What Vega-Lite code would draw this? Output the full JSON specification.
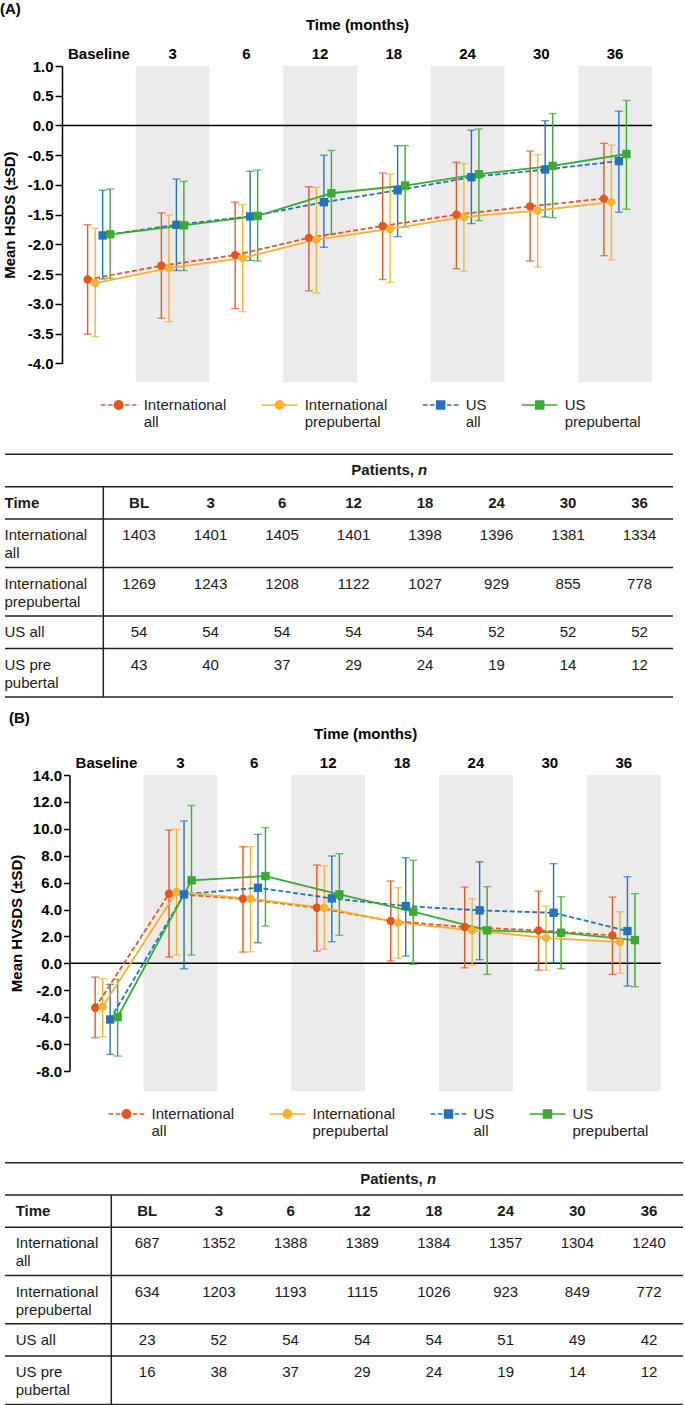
{
"$schema":"https://vega.github.io/schema/vega-lite/v6.json",
"padding":{"left":0,"top":2,"right":0,"bottom":0},
"bounds":"flush",
"spacing":0,
"resolve":{"scale":{"color":"independent"},"legend":{"color":"independent"}},
"config":{
 "view":{"stroke":null},
 "font":"Liberation Sans",
 "axis":{"labelFont":"Liberation Sans","titleFont":"Liberation Sans","labelColor":"#000","titleColor":"#000","grid":false},
 "legend":{"labelFont":"Liberation Sans","titleFont":"Liberation Sans"},
 "title":{"font":"Liberation Sans","color":"#000"},
 "text":{"font":"Liberation Sans","fontSize":15,"color":"#1a1a1a"}
},
"datasets":{
 "hsdsA":[
  {"Time":"Baseline","month":0,"Group":"International all","mean":-2.59,"lo":-3.51,"hi":-1.67},
  {"Time":"Baseline","month":0,"Group":"International prepubertal","mean":-2.65,"lo":-3.55,"hi":-1.73},
  {"Time":"Baseline","month":0,"Group":"US all","mean":-1.85,"lo":-2.58,"hi":-1.09},
  {"Time":"Baseline","month":0,"Group":"US prepubertal","mean":-1.83,"lo":-2.57,"hi":-1.07},
  {"Time":"3","month":3,"Group":"International all","mean":-2.36,"lo":-3.24,"hi":-1.47},
  {"Time":"3","month":3,"Group":"International prepubertal","mean":-2.40,"lo":-3.30,"hi":-1.51},
  {"Time":"3","month":3,"Group":"US all","mean":-1.67,"lo":-2.44,"hi":-0.90},
  {"Time":"3","month":3,"Group":"US prepubertal","mean":-1.68,"lo":-2.44,"hi":-0.94},
  {"Time":"6","month":6,"Group":"International all","mean":-2.18,"lo":-3.08,"hi":-1.29},
  {"Time":"6","month":6,"Group":"International prepubertal","mean":-2.23,"lo":-3.13,"hi":-1.33},
  {"Time":"6","month":6,"Group":"US all","mean":-1.53,"lo":-2.27,"hi":-0.77},
  {"Time":"6","month":6,"Group":"US prepubertal","mean":-1.52,"lo":-2.28,"hi":-0.75},
  {"Time":"12","month":12,"Group":"International all","mean":-1.89,"lo":-2.78,"hi":-1.03},
  {"Time":"12","month":12,"Group":"International prepubertal","mean":-1.92,"lo":-2.82,"hi":-1.04},
  {"Time":"12","month":12,"Group":"US all","mean":-1.29,"lo":-2.05,"hi":-0.50},
  {"Time":"12","month":12,"Group":"US prepubertal","mean":-1.14,"lo":-1.83,"hi":-0.42},
  {"Time":"18","month":18,"Group":"International all","mean":-1.69,"lo":-2.59,"hi":-0.80},
  {"Time":"18","month":18,"Group":"International prepubertal","mean":-1.74,"lo":-2.64,"hi":-0.82},
  {"Time":"18","month":18,"Group":"US all","mean":-1.09,"lo":-1.87,"hi":-0.34},
  {"Time":"18","month":18,"Group":"US prepubertal","mean":-1.01,"lo":-1.71,"hi":-0.34},
  {"Time":"24","month":24,"Group":"International all","mean":-1.50,"lo":-2.41,"hi":-0.62},
  {"Time":"24","month":24,"Group":"International prepubertal","mean":-1.54,"lo":-2.45,"hi":-0.64},
  {"Time":"24","month":24,"Group":"US all","mean":-0.87,"lo":-1.65,"hi":-0.08},
  {"Time":"24","month":24,"Group":"US prepubertal","mean":-0.82,"lo":-1.60,"hi":-0.06},
  {"Time":"30","month":30,"Group":"International all","mean":-1.36,"lo":-2.28,"hi":-0.43},
  {"Time":"30","month":30,"Group":"International prepubertal","mean":-1.43,"lo":-2.38,"hi":-0.49},
  {"Time":"30","month":30,"Group":"US all","mean":-0.74,"lo":-1.54,"hi":0.08},
  {"Time":"30","month":30,"Group":"US prepubertal","mean":-0.68,"lo":-1.55,"hi":0.20},
  {"Time":"36","month":36,"Group":"International all","mean":-1.23,"lo":-2.19,"hi":-0.30},
  {"Time":"36","month":36,"Group":"International prepubertal","mean":-1.29,"lo":-2.26,"hi":-0.33},
  {"Time":"36","month":36,"Group":"US all","mean":-0.60,"lo":-1.46,"hi":0.24},
  {"Time":"36","month":36,"Group":"US prepubertal","mean":-0.48,"lo":-1.41,"hi":0.42}
 ],
 "hsdsB":[
  {"Time":"Baseline","month":0,"Group":"International all","mean":-3.30,"lo":-5.53,"hi":-1.02},
  {"Time":"Baseline","month":0,"Group":"International prepubertal","mean":-3.22,"lo":-5.45,"hi":-1.14},
  {"Time":"Baseline","month":0,"Group":"US all","mean":-4.17,"lo":-6.77,"hi":-1.56},
  {"Time":"Baseline","month":0,"Group":"US prepubertal","mean":-3.99,"lo":-6.89,"hi":-1.19},
  {"Time":"3","month":3,"Group":"International all","mean":5.18,"lo":0.47,"hi":9.91},
  {"Time":"3","month":3,"Group":"International prepubertal","mean":5.30,"lo":0.62,"hi":9.96},
  {"Time":"3","month":3,"Group":"US all","mean":5.13,"lo":-0.40,"hi":10.58},
  {"Time":"3","month":3,"Group":"US prepubertal","mean":6.17,"lo":0.62,"hi":11.74},
  {"Time":"6","month":6,"Group":"International all","mean":4.80,"lo":0.84,"hi":8.67},
  {"Time":"6","month":6,"Group":"International prepubertal","mean":4.80,"lo":0.86,"hi":8.67},
  {"Time":"6","month":6,"Group":"US all","mean":5.62,"lo":1.53,"hi":9.59},
  {"Time":"6","month":6,"Group":"US prepubertal","mean":6.49,"lo":2.77,"hi":10.08},
  {"Time":"12","month":12,"Group":"International all","mean":4.13,"lo":0.91,"hi":7.31},
  {"Time":"12","month":12,"Group":"International prepubertal","mean":4.13,"lo":1.04,"hi":7.23},
  {"Time":"12","month":12,"Group":"US all","mean":4.83,"lo":1.61,"hi":7.98},
  {"Time":"12","month":12,"Group":"US prepubertal","mean":5.13,"lo":2.08,"hi":8.15},
  {"Time":"18","month":18,"Group":"International all","mean":3.15,"lo":0.17,"hi":6.12},
  {"Time":"18","month":18,"Group":"International prepubertal","mean":3.02,"lo":0.37,"hi":5.62},
  {"Time":"18","month":18,"Group":"US all","mean":4.26,"lo":0.54,"hi":7.85},
  {"Time":"18","month":18,"Group":"US prepubertal","mean":3.84,"lo":-0.07,"hi":7.66},
  {"Time":"24","month":24,"Group":"International all","mean":2.70,"lo":-0.33,"hi":5.67},
  {"Time":"24","month":24,"Group":"International prepubertal","mean":2.45,"lo":-0.13,"hi":4.80},
  {"Time":"24","month":24,"Group":"US all","mean":3.94,"lo":0.27,"hi":7.55},
  {"Time":"24","month":24,"Group":"US prepubertal","mean":2.45,"lo":-0.82,"hi":5.70},
  {"Time":"30","month":30,"Group":"International all","mean":2.45,"lo":-0.50,"hi":5.37},
  {"Time":"30","month":30,"Group":"International prepubertal","mean":1.90,"lo":-0.50,"hi":4.26},
  {"Time":"30","month":30,"Group":"US all","mean":3.76,"lo":0.05,"hi":7.41},
  {"Time":"30","month":30,"Group":"US prepubertal","mean":2.28,"lo":-0.40,"hi":4.95},
  {"Time":"36","month":36,"Group":"International all","mean":2.08,"lo":-0.82,"hi":4.93},
  {"Time":"36","month":36,"Group":"International prepubertal","mean":1.58,"lo":-0.74,"hi":3.84},
  {"Time":"36","month":36,"Group":"US all","mean":2.40,"lo":-1.69,"hi":6.44},
  {"Time":"36","month":36,"Group":"US prepubertal","mean":1.73,"lo":-1.74,"hi":5.18}
 ],
 "tableA":[
  {"row":"International all","col":"BL","n":1403},{"row":"International all","col":"3","n":1401},{"row":"International all","col":"6","n":1405},{"row":"International all","col":"12","n":1401},{"row":"International all","col":"18","n":1398},{"row":"International all","col":"24","n":1396},{"row":"International all","col":"30","n":1381},{"row":"International all","col":"36","n":1334},
  {"row":"International prepubertal","col":"BL","n":1269},{"row":"International prepubertal","col":"3","n":1243},{"row":"International prepubertal","col":"6","n":1208},{"row":"International prepubertal","col":"12","n":1122},{"row":"International prepubertal","col":"18","n":1027},{"row":"International prepubertal","col":"24","n":929},{"row":"International prepubertal","col":"30","n":855},{"row":"International prepubertal","col":"36","n":778},
  {"row":"US all","col":"BL","n":54},{"row":"US all","col":"3","n":54},{"row":"US all","col":"6","n":54},{"row":"US all","col":"12","n":54},{"row":"US all","col":"18","n":54},{"row":"US all","col":"24","n":52},{"row":"US all","col":"30","n":52},{"row":"US all","col":"36","n":52},
  {"row":"US pre pubertal","col":"BL","n":43},{"row":"US pre pubertal","col":"3","n":40},{"row":"US pre pubertal","col":"6","n":37},{"row":"US pre pubertal","col":"12","n":29},{"row":"US pre pubertal","col":"18","n":24},{"row":"US pre pubertal","col":"24","n":19},{"row":"US pre pubertal","col":"30","n":14},{"row":"US pre pubertal","col":"36","n":12}
 ],
 "tableB":[
  {"row":"International all","col":"BL","n":687},{"row":"International all","col":"3","n":1352},{"row":"International all","col":"6","n":1388},{"row":"International all","col":"12","n":1389},{"row":"International all","col":"18","n":1384},{"row":"International all","col":"24","n":1357},{"row":"International all","col":"30","n":1304},{"row":"International all","col":"36","n":1240},
  {"row":"International prepubertal","col":"BL","n":634},{"row":"International prepubertal","col":"3","n":1203},{"row":"International prepubertal","col":"6","n":1193},{"row":"International prepubertal","col":"12","n":1115},{"row":"International prepubertal","col":"18","n":1026},{"row":"International prepubertal","col":"24","n":923},{"row":"International prepubertal","col":"30","n":849},{"row":"International prepubertal","col":"36","n":772},
  {"row":"US all","col":"BL","n":23},{"row":"US all","col":"3","n":52},{"row":"US all","col":"6","n":54},{"row":"US all","col":"12","n":54},{"row":"US all","col":"18","n":54},{"row":"US all","col":"24","n":51},{"row":"US all","col":"30","n":49},{"row":"US all","col":"36","n":42},
  {"row":"US pre pubertal","col":"BL","n":16},{"row":"US pre pubertal","col":"3","n":38},{"row":"US pre pubertal","col":"6","n":37},{"row":"US pre pubertal","col":"12","n":29},{"row":"US pre pubertal","col":"18","n":24},{"row":"US pre pubertal","col":"24","n":19},{"row":"US pre pubertal","col":"30","n":14},{"row":"US pre pubertal","col":"36","n":12}
 ],
 "cols":[{"col":"BL"},{"col":"3"},{"col":"6"},{"col":"12"},{"col":"18"},{"col":"24"},{"col":"30"},{"col":"36"}],
 "rules":[{"slot":"s0"},{"slot":"s1"},{"slot":"s2"},{"slot":"s4"},{"slot":"s6"},{"slot":"s7"},{"slot":"end"}],
 "bands":[{"Time":"3"},{"Time":"12"},{"Time":"24"},{"Time":"36"}],
 "one":[{}]
},
"vconcat":[
 {
  "width":668,"height":297.3,
  "title":{"text":"(A)","anchor":"start","frame":"group","fontSize":15,"fontWeight":"bold","offset":0,"dx":-5},
  "layer":[
   {"data":{"name":"bands"},"mark":{"type":"rect","color":"#EBEBEB"},
    "encoding":{
     "x":{"field":"Time","type":"nominal","scale":{"domain":["Baseline","3","6","12","18","24","30","36"],"range":[57,647],"paddingInner":0,"paddingOuter":0},
          "axis":{"orient":"top","domain":false,"ticks":false,"labelAngle":0,"labelFontSize":15,"labelFontWeight":"bold","labelPadding":5,"title":"Time (months)","titleFontSize":15,"titleFontWeight":"bold","titlePadding":14}},
     "y":{"datum":1,"type":"quantitative","scale":{"domain":[-4,1],"nice":false,"zero":false},
          "axis":{"values":[1,0.5,0,-0.5,-1,-1.5,-2,-2.5,-3,-3.5,-4],"labelExpr":"replace(format(datum.value,'.1f'),'\u2212','-')","offset":-57,"labelFontSize":15,"labelFontWeight":"bold","labelPadding":2,"labelOverlap":false,"labelBound":false,"tickSize":7,"tickWidth":1.5,"tickColor":"#000","domainColor":"#000","domainWidth":1.5,"title":"Mean HSDS (±SD)","titleFontSize":15,"titleFontWeight":"bold","titlePadding":10}},
     "y2":{"datum":-4.32}
    }},
   {"data":{"name":"one"},"mark":{"type":"rule","color":"#000","strokeWidth":1.5},
    "encoding":{
     "x":{"datum":"Baseline","type":"nominal","bandPosition":0,"scale":{"domain":["Baseline","3","6","12","18","24","30","36"],"range":[57,647],"paddingInner":0,"paddingOuter":0}},
     "x2":{"datum":"36","bandPosition":1},
     "y":{"datum":0,"type":"quantitative","scale":{"domain":[-4,1],"nice":false,"zero":false},
          "axis":{"values":[1,0.5,0,-0.5,-1,-1.5,-2,-2.5,-3,-3.5,-4],"labelExpr":"replace(format(datum.value,'.1f'),'\u2212','-')","offset":-57,"labelFontSize":15,"labelFontWeight":"bold","labelPadding":2,"labelOverlap":false,"labelBound":false,"tickSize":7,"tickWidth":1.5,"tickColor":"#000","domainColor":"#000","domainWidth":1.5,"title":"Mean HSDS (±SD)","titleFontSize":15,"titleFontWeight":"bold","titlePadding":10}}
    }},
   {"data":{"name":"hsdsA"},"mark":{"type":"rule","strokeWidth":1.4},
    "encoding":{
     "x":{"field":"Time","type":"nominal","scale":{"domain":["Baseline","3","6","12","18","24","30","36"],"range":[57,647],"paddingInner":0,"paddingOuter":0}},
     "xOffset":{"field":"Group","type":"nominal","scale":{"domain":["International all","International prepubertal","US all","US prepubertal"],"range":[21.9,51.9],"paddingInner":0,"paddingOuter":0}},
     "y":{"field":"lo","type":"quantitative","scale":{"domain":[-4,1],"nice":false,"zero":false},
          "axis":{"values":[1,0.5,0,-0.5,-1,-1.5,-2,-2.5,-3,-3.5,-4],"labelExpr":"replace(format(datum.value,'.1f'),'\u2212','-')","offset":-57,"labelFontSize":15,"labelFontWeight":"bold","labelPadding":2,"labelOverlap":false,"labelBound":false,"tickSize":7,"tickWidth":1.5,"tickColor":"#000","domainColor":"#000","domainWidth":1.5,"title":"Mean HSDS (±SD)","titleFontSize":15,"titleFontWeight":"bold","titlePadding":10}},
     "y2":{"field":"hi"},
     "color":{"field":"Group","type":"nominal","scale":{"domain":["International all","International prepubertal","US all","US prepubertal"],"range":["#E8541E","#F8B133","#2472B9","#3AA935"]}}
    }},
   {"data":{"name":"hsdsA"},"mark":{"type":"tick","thickness":1.4,"size":8,"orient":"horizontal"},
    "encoding":{
     "x":{"field":"Time","type":"nominal","scale":{"domain":["Baseline","3","6","12","18","24","30","36"],"range":[57,647],"paddingInner":0,"paddingOuter":0}},
     "xOffset":{"field":"Group","type":"nominal","scale":{"domain":["International all","International prepubertal","US all","US prepubertal"],"range":[21.9,51.9],"paddingInner":0,"paddingOuter":0}},
     "y":{"field":"lo","type":"quantitative","scale":{"domain":[-4,1],"nice":false,"zero":false},
          "axis":{"values":[1,0.5,0,-0.5,-1,-1.5,-2,-2.5,-3,-3.5,-4],"labelExpr":"replace(format(datum.value,'.1f'),'\u2212','-')","offset":-57,"labelFontSize":15,"labelFontWeight":"bold","labelPadding":2,"labelOverlap":false,"labelBound":false,"tickSize":7,"tickWidth":1.5,"tickColor":"#000","domainColor":"#000","domainWidth":1.5,"title":"Mean HSDS (±SD)","titleFontSize":15,"titleFontWeight":"bold","titlePadding":10}},
     "color":{"field":"Group","type":"nominal","scale":{"domain":["International all","International prepubertal","US all","US prepubertal"],"range":["#E8541E","#F8B133","#2472B9","#3AA935"]}}
    }},
   {"data":{"name":"hsdsA"},"mark":{"type":"tick","thickness":1.4,"size":8,"orient":"horizontal"},
    "encoding":{
     "x":{"field":"Time","type":"nominal","scale":{"domain":["Baseline","3","6","12","18","24","30","36"],"range":[57,647],"paddingInner":0,"paddingOuter":0}},
     "xOffset":{"field":"Group","type":"nominal","scale":{"domain":["International all","International prepubertal","US all","US prepubertal"],"range":[21.9,51.9],"paddingInner":0,"paddingOuter":0}},
     "y":{"field":"hi","type":"quantitative","scale":{"domain":[-4,1],"nice":false,"zero":false},
          "axis":{"values":[1,0.5,0,-0.5,-1,-1.5,-2,-2.5,-3,-3.5,-4],"labelExpr":"replace(format(datum.value,'.1f'),'\u2212','-')","offset":-57,"labelFontSize":15,"labelFontWeight":"bold","labelPadding":2,"labelOverlap":false,"labelBound":false,"tickSize":7,"tickWidth":1.5,"tickColor":"#000","domainColor":"#000","domainWidth":1.5,"title":"Mean HSDS (±SD)","titleFontSize":15,"titleFontWeight":"bold","titlePadding":10}},
     "color":{"field":"Group","type":"nominal","scale":{"domain":["International all","International prepubertal","US all","US prepubertal"],"range":["#E8541E","#F8B133","#2472B9","#3AA935"]}}
    }},
   {"data":{"name":"hsdsA"},"transform":[{"filter":{"field":"Group","oneOf":["International all","US all"]}}],
    "mark":{"type":"line","strokeWidth":1.8,"strokeDash":[5,2.5]},
    "encoding":{
     "x":{"field":"Time","type":"nominal","scale":{"domain":["Baseline","3","6","12","18","24","30","36"],"range":[57,647],"paddingInner":0,"paddingOuter":0}},
     "xOffset":{"field":"Group","type":"nominal","scale":{"domain":["International all","International prepubertal","US all","US prepubertal"],"range":[21.9,51.9],"paddingInner":0,"paddingOuter":0}},
     "y":{"field":"mean","type":"quantitative","scale":{"domain":[-4,1],"nice":false,"zero":false},
          "axis":{"values":[1,0.5,0,-0.5,-1,-1.5,-2,-2.5,-3,-3.5,-4],"labelExpr":"replace(format(datum.value,'.1f'),'\u2212','-')","offset":-57,"labelFontSize":15,"labelFontWeight":"bold","labelPadding":2,"labelOverlap":false,"labelBound":false,"tickSize":7,"tickWidth":1.5,"tickColor":"#000","domainColor":"#000","domainWidth":1.5,"title":"Mean HSDS (±SD)","titleFontSize":15,"titleFontWeight":"bold","titlePadding":10}},
     "order":{"field":"month","type":"quantitative"},
     "color":{"field":"Group","type":"nominal","scale":{"domain":["International all","International prepubertal","US all","US prepubertal"],"range":["#E8541E","#F8B133","#2472B9","#3AA935"]}}
    }},
   {"data":{"name":"hsdsA"},"transform":[{"filter":{"field":"Group","oneOf":["International prepubertal","US prepubertal"]}}],
    "mark":{"type":"line","strokeWidth":1.8},
    "encoding":{
     "x":{"field":"Time","type":"nominal","scale":{"domain":["Baseline","3","6","12","18","24","30","36"],"range":[57,647],"paddingInner":0,"paddingOuter":0}},
     "xOffset":{"field":"Group","type":"nominal","scale":{"domain":["International all","International prepubertal","US all","US prepubertal"],"range":[21.9,51.9],"paddingInner":0,"paddingOuter":0}},
     "y":{"field":"mean","type":"quantitative","scale":{"domain":[-4,1],"nice":false,"zero":false},
          "axis":{"values":[1,0.5,0,-0.5,-1,-1.5,-2,-2.5,-3,-3.5,-4],"labelExpr":"replace(format(datum.value,'.1f'),'\u2212','-')","offset":-57,"labelFontSize":15,"labelFontWeight":"bold","labelPadding":2,"labelOverlap":false,"labelBound":false,"tickSize":7,"tickWidth":1.5,"tickColor":"#000","domainColor":"#000","domainWidth":1.5,"title":"Mean HSDS (±SD)","titleFontSize":15,"titleFontWeight":"bold","titlePadding":10}},
     "order":{"field":"month","type":"quantitative"},
     "color":{"field":"Group","type":"nominal","scale":{"domain":["International all","International prepubertal","US all","US prepubertal"],"range":["#E8541E","#F8B133","#2472B9","#3AA935"]},
      "legend":{"orient":"none","legendX":94.7,"legendY":320,"direction":"horizontal","columns":4,"columnPadding":31,"title":null,"padding":0,"labelFontSize":15,"labelColor":"#222","labelOffset":6,"labelLimit":300,"labelExpr":"split(datum.label,' ')","symbolSize":1275,"labelBaseline":"middle",
       "encode":{"symbols":{"update":{
        "shape":{"signal":"datum.value === 'International all' ? 'M-1,0L-0.74,0M-0.6,0L-0.34,0M0.34,0L0.6,0M0.74,0L1,0M-0.24,0A0.24,0.24,0,1,1,0.24,0A0.24,0.24,0,1,1,-0.24,0Z' : datum.value === 'International prepubertal' ? 'M-1,0L1,0M-0.24,0A0.24,0.24,0,1,1,0.24,0A0.24,0.24,0,1,1,-0.24,0Z' : datum.value === 'US all' ? 'M-1,0L-0.74,0M-0.6,0L-0.34,0M0.34,0L0.6,0M0.74,0L1,0M-0.22,-0.22L0.22,-0.22L0.22,0.22L-0.22,0.22Z' : 'M-1,0L1,0M-0.22,-0.22L0.22,-0.22L0.22,0.22L-0.22,0.22Z'"},
        "fill":{"signal":"datum.value === 'International all' ? '#E8541E' : datum.value === 'International prepubertal' ? '#F8B133' : datum.value === 'US all' ? '#2472B9' : '#3AA935'"},
        "stroke":{"signal":"datum.value === 'International all' ? '#E8541E' : datum.value === 'International prepubertal' ? '#F8B133' : datum.value === 'US all' ? '#2472B9' : '#3AA935'"},
        "strokeWidth":{"value":1.6},"strokeDash":{"value":[]},"size":{"value":1275},"opacity":{"value":1},"fillOpacity":{"value":1},"strokeOpacity":{"value":1}
       }}}}
     }
    }},
   {"data":{"name":"hsdsA"},"transform":[{"filter":{"field":"Group","oneOf":["International all","International prepubertal"]}}],
    "mark":{"type":"point","shape":"circle","filled":true,"opacity":1,"size":70},
    "encoding":{
     "x":{"field":"Time","type":"nominal","scale":{"domain":["Baseline","3","6","12","18","24","30","36"],"range":[57,647],"paddingInner":0,"paddingOuter":0}},
     "xOffset":{"field":"Group","type":"nominal","scale":{"domain":["International all","International prepubertal","US all","US prepubertal"],"range":[21.9,51.9],"paddingInner":0,"paddingOuter":0}},
     "y":{"field":"mean","type":"quantitative","scale":{"domain":[-4,1],"nice":false,"zero":false},
          "axis":{"values":[1,0.5,0,-0.5,-1,-1.5,-2,-2.5,-3,-3.5,-4],"labelExpr":"replace(format(datum.value,'.1f'),'\u2212','-')","offset":-57,"labelFontSize":15,"labelFontWeight":"bold","labelPadding":2,"labelOverlap":false,"labelBound":false,"tickSize":7,"tickWidth":1.5,"tickColor":"#000","domainColor":"#000","domainWidth":1.5,"title":"Mean HSDS (±SD)","titleFontSize":15,"titleFontWeight":"bold","titlePadding":10}},
     "color":{"field":"Group","type":"nominal","scale":{"domain":["International all","International prepubertal","US all","US prepubertal"],"range":["#E8541E","#F8B133","#2472B9","#3AA935"]}}
    }},
   {"data":{"name":"hsdsA"},"transform":[{"filter":{"field":"Group","oneOf":["US all","US prepubertal"]}}],
    "mark":{"type":"point","shape":"square","filled":true,"opacity":1,"size":70},
    "encoding":{
     "x":{"field":"Time","type":"nominal","scale":{"domain":["Baseline","3","6","12","18","24","30","36"],"range":[57,647],"paddingInner":0,"paddingOuter":0}},
     "xOffset":{"field":"Group","type":"nominal","scale":{"domain":["International all","International prepubertal","US all","US prepubertal"],"range":[21.9,51.9],"paddingInner":0,"paddingOuter":0}},
     "y":{"field":"mean","type":"quantitative","scale":{"domain":[-4,1],"nice":false,"zero":false},
          "axis":{"values":[1,0.5,0,-0.5,-1,-1.5,-2,-2.5,-3,-3.5,-4],"labelExpr":"replace(format(datum.value,'.1f'),'\u2212','-')","offset":-57,"labelFontSize":15,"labelFontWeight":"bold","labelPadding":2,"labelOverlap":false,"labelBound":false,"tickSize":7,"tickWidth":1.5,"tickColor":"#000","domainColor":"#000","domainWidth":1.5,"title":"Mean HSDS (±SD)","titleFontSize":15,"titleFontWeight":"bold","titlePadding":10}},
     "color":{"field":"Group","type":"nominal","scale":{"domain":["International all","International prepubertal","US all","US prepubertal"],"range":["#E8541E","#F8B133","#2472B9","#3AA935"]}}
    }}
  ]
 },
 {
  "width":668,"height":411,
  "layer":[
   {"data":{"name":"rules"},"mark":{"type":"rule","color":"#222","strokeWidth":1.5},
    "encoding":{"y":{"field":"slot","type":"nominal","bandPosition":0,
     "scale":{"domain":["s0","Patients","s1","Time","s2","International all","s3","s4","International prepubertal","s5","s6","US all","s7","US pre pubertal","s8","end"],"range":[90.3,349.2],"paddingInner":0,"paddingOuter":0},
     "axis":{"orient":"left","values":["Time","International all","International prepubertal","US all","US pre pubertal"],"bandPosition":0,
      "labelExpr":"datum.value === 'International all' ? ['International','all'] : datum.value === 'International prepubertal' ? ['International','prepubertal'] : datum.value === 'US pre pubertal' ? ['US pre','pubertal'] : datum.value",
      "labelAlign":"left","labelBaseline":"middle","labelPadding":1,"labelOffset":-8.1,"tickSize":0,"ticks":false,"domain":false,"title":null,"labelFontSize":15,"labelLineHeight":18,"labelColor":"#1a1a1a","labelOverlap":false,"labelBound":false,"labelLimit":0,
      "labelFontWeight":{"condition":{"test":"datum.value === 'Time'","value":"bold"},"value":"normal"}}}}},
   {"data":{"name":"one"},"mark":{"type":"rule","color":"#222","strokeWidth":1.5},
    "encoding":{
     "x":{"datum":"BL","type":"nominal","bandPosition":0,"scale":{"domain":["BL","3","6","12","18","24","30","36"],"range":[98.3,670.3],"paddingInner":0,"paddingOuter":0},"axis":null},
     "y":{"datum":"s1","type":"nominal","bandPosition":0,"scale":{"domain":["s0","Patients","s1","Time","s2","International all","s3","s4","International prepubertal","s5","s6","US all","s7","US pre pubertal","s8","end"],"range":[90.3,349.2],"paddingInner":0,"paddingOuter":0}},
     "y2":{"datum":"end","bandPosition":0}}},
   {"data":{"name":"cols"},"mark":{"type":"text","fontWeight":"bold","fontSize":15,"baseline":"middle"},
    "encoding":{
     "x":{"field":"col","type":"nominal","scale":{"domain":["BL","3","6","12","18","24","30","36"],"range":[98.3,670.3],"paddingInner":0,"paddingOuter":0},"axis":null},
     "y":{"datum":"Time","type":"nominal","bandPosition":0,"scale":{"domain":["s0","Patients","s1","Time","s2","International all","s3","s4","International prepubertal","s5","s6","US all","s7","US pre pubertal","s8","end"],"range":[90.3,349.2],"paddingInner":0,"paddingOuter":0}},
     "text":{"field":"col"}}},
   {"data":{"name":"one"},"mark":{"type":"text","fontWeight":"bold","fontSize":15,"baseline":"middle","align":"right","dx":24.6},
    "encoding":{
     "x":{"datum":"18","type":"nominal","bandPosition":0,"scale":{"domain":["BL","3","6","12","18","24","30","36"],"range":[98.3,670.3],"paddingInner":0,"paddingOuter":0},"axis":null},
     "y":{"datum":"Patients","type":"nominal","bandPosition":0,"scale":{"domain":["s0","Patients","s1","Time","s2","International all","s3","s4","International prepubertal","s5","s6","US all","s7","US pre pubertal","s8","end"],"range":[90.3,349.2],"paddingInner":0,"paddingOuter":0}},
     "text":{"value":"Patients,"}}},
   {"data":{"name":"one"},"mark":{"type":"text","fontWeight":"bold","fontStyle":"italic","fontSize":15,"baseline":"middle","align":"left","dx":28.8},
    "encoding":{
     "x":{"datum":"18","type":"nominal","bandPosition":0,"scale":{"domain":["BL","3","6","12","18","24","30","36"],"range":[98.3,670.3],"paddingInner":0,"paddingOuter":0},"axis":null},
     "y":{"datum":"Patients","type":"nominal","bandPosition":0,"scale":{"domain":["s0","Patients","s1","Time","s2","International all","s3","s4","International prepubertal","s5","s6","US all","s7","US pre pubertal","s8","end"],"range":[90.3,349.2],"paddingInner":0,"paddingOuter":0}},
     "text":{"value":"n"}}},
   {"data":{"name":"tableA"},"mark":{"type":"text","fontSize":15,"baseline":"middle"},
    "encoding":{
     "x":{"field":"col","type":"nominal","scale":{"domain":["BL","3","6","12","18","24","30","36"],"range":[98.3,670.3],"paddingInner":0,"paddingOuter":0},"axis":null},
     "y":{"field":"row","type":"nominal","bandPosition":0,"scale":{"domain":["s0","Patients","s1","Time","s2","International all","s3","s4","International prepubertal","s5","s6","US all","s7","US pre pubertal","s8","end"],"range":[90.3,349.2],"paddingInner":0,"paddingOuter":0}},
     "text":{"field":"n","type":"quantitative","format":"d"}}}
  ]
 },
 {
  "width":668,"height":296,
  "title":{"text":"(B)","anchor":"start","frame":"group","fontSize":15,"fontWeight":"bold","offset":0,"dx":4},
  "layer":[
   {"data":{"name":"bands"},"mark":{"type":"rect","color":"#EBEBEB"},
    "encoding":{
     "x":{"field":"Time","type":"nominal","scale":{"domain":["Baseline","3","6","12","18","24","30","36"],"range":[64.5,655.7],"paddingInner":0,"paddingOuter":0},
          "axis":{"orient":"top","domain":false,"ticks":false,"labelAngle":0,"labelFontSize":15,"labelFontWeight":"bold","labelPadding":5,"title":"Time (months)","titleFontSize":15,"titleFontWeight":"bold","titlePadding":14}},
     "y":{"datum":14,"type":"quantitative","scale":{"domain":[-8,14],"nice":false,"zero":false},
          "axis":{"values":[14,12,10,8,6,4,2,0,-2,-4,-6,-8],"labelExpr":"replace(format(datum.value,'.1f'),'\u2212','-')","offset":-64.5,"labelFontSize":15,"labelFontWeight":"bold","labelPadding":2,"labelOverlap":false,"labelBound":false,"tickSize":6,"tickWidth":1.5,"tickColor":"#000","domainColor":"#000","domainWidth":1.5,"title":"Mean HVSDS (±SD)","titleFontSize":15,"titleFontWeight":"bold","titlePadding":8}},
     "y2":{"datum":-9.5}
    }},
   {"data":{"name":"one"},"mark":{"type":"rule","color":"#000","strokeWidth":1.5},
    "encoding":{
     "x":{"datum":"Baseline","type":"nominal","bandPosition":0,"scale":{"domain":["Baseline","3","6","12","18","24","30","36"],"range":[64.5,655.7],"paddingInner":0,"paddingOuter":0}},
     "x2":{"datum":"36","bandPosition":1},
     "y":{"datum":0,"type":"quantitative","scale":{"domain":[-8,14],"nice":false,"zero":false},
          "axis":{"values":[14,12,10,8,6,4,2,0,-2,-4,-6,-8],"labelExpr":"replace(format(datum.value,'.1f'),'\u2212','-')","offset":-64.5,"labelFontSize":15,"labelFontWeight":"bold","labelPadding":2,"labelOverlap":false,"labelBound":false,"tickSize":6,"tickWidth":1.5,"tickColor":"#000","domainColor":"#000","domainWidth":1.5,"title":"Mean HVSDS (±SD)","titleFontSize":15,"titleFontWeight":"bold","titlePadding":8}}
    }},
   {"data":{"name":"hsdsB"},"mark":{"type":"rule","strokeWidth":1.4},
    "encoding":{
     "x":{"field":"Time","type":"nominal","scale":{"domain":["Baseline","3","6","12","18","24","30","36"],"range":[64.5,655.7],"paddingInner":0,"paddingOuter":0}},
     "xOffset":{"field":"Group","type":"nominal","scale":{"domain":["International all","International prepubertal","US all","US prepubertal"],"range":[22,52],"paddingInner":0,"paddingOuter":0}},
     "y":{"field":"lo","type":"quantitative","scale":{"domain":[-8,14],"nice":false,"zero":false},
          "axis":{"values":[14,12,10,8,6,4,2,0,-2,-4,-6,-8],"labelExpr":"replace(format(datum.value,'.1f'),'\u2212','-')","offset":-64.5,"labelFontSize":15,"labelFontWeight":"bold","labelPadding":2,"labelOverlap":false,"labelBound":false,"tickSize":6,"tickWidth":1.5,"tickColor":"#000","domainColor":"#000","domainWidth":1.5,"title":"Mean HVSDS (±SD)","titleFontSize":15,"titleFontWeight":"bold","titlePadding":8}},
     "y2":{"field":"hi"},
     "color":{"field":"Group","type":"nominal","scale":{"domain":["International all","International prepubertal","US all","US prepubertal"],"range":["#E8541E","#F8B133","#2472B9","#3AA935"]}}
    }},
   {"data":{"name":"hsdsB"},"mark":{"type":"tick","thickness":1.4,"size":8,"orient":"horizontal"},
    "encoding":{
     "x":{"field":"Time","type":"nominal","scale":{"domain":["Baseline","3","6","12","18","24","30","36"],"range":[64.5,655.7],"paddingInner":0,"paddingOuter":0}},
     "xOffset":{"field":"Group","type":"nominal","scale":{"domain":["International all","International prepubertal","US all","US prepubertal"],"range":[22,52],"paddingInner":0,"paddingOuter":0}},
     "y":{"field":"lo","type":"quantitative","scale":{"domain":[-8,14],"nice":false,"zero":false},
          "axis":{"values":[14,12,10,8,6,4,2,0,-2,-4,-6,-8],"labelExpr":"replace(format(datum.value,'.1f'),'\u2212','-')","offset":-64.5,"labelFontSize":15,"labelFontWeight":"bold","labelPadding":2,"labelOverlap":false,"labelBound":false,"tickSize":6,"tickWidth":1.5,"tickColor":"#000","domainColor":"#000","domainWidth":1.5,"title":"Mean HVSDS (±SD)","titleFontSize":15,"titleFontWeight":"bold","titlePadding":8}},
     "color":{"field":"Group","type":"nominal","scale":{"domain":["International all","International prepubertal","US all","US prepubertal"],"range":["#E8541E","#F8B133","#2472B9","#3AA935"]}}
    }},
   {"data":{"name":"hsdsB"},"mark":{"type":"tick","thickness":1.4,"size":8,"orient":"horizontal"},
    "encoding":{
     "x":{"field":"Time","type":"nominal","scale":{"domain":["Baseline","3","6","12","18","24","30","36"],"range":[64.5,655.7],"paddingInner":0,"paddingOuter":0}},
     "xOffset":{"field":"Group","type":"nominal","scale":{"domain":["International all","International prepubertal","US all","US prepubertal"],"range":[22,52],"paddingInner":0,"paddingOuter":0}},
     "y":{"field":"hi","type":"quantitative","scale":{"domain":[-8,14],"nice":false,"zero":false},
          "axis":{"values":[14,12,10,8,6,4,2,0,-2,-4,-6,-8],"labelExpr":"replace(format(datum.value,'.1f'),'\u2212','-')","offset":-64.5,"labelFontSize":15,"labelFontWeight":"bold","labelPadding":2,"labelOverlap":false,"labelBound":false,"tickSize":6,"tickWidth":1.5,"tickColor":"#000","domainColor":"#000","domainWidth":1.5,"title":"Mean HVSDS (±SD)","titleFontSize":15,"titleFontWeight":"bold","titlePadding":8}},
     "color":{"field":"Group","type":"nominal","scale":{"domain":["International all","International prepubertal","US all","US prepubertal"],"range":["#E8541E","#F8B133","#2472B9","#3AA935"]}}
    }},
   {"data":{"name":"hsdsB"},"transform":[{"filter":{"field":"Group","oneOf":["International all","US all"]}}],
    "mark":{"type":"line","strokeWidth":1.8,"strokeDash":[5,2.5]},
    "encoding":{
     "x":{"field":"Time","type":"nominal","scale":{"domain":["Baseline","3","6","12","18","24","30","36"],"range":[64.5,655.7],"paddingInner":0,"paddingOuter":0}},
     "xOffset":{"field":"Group","type":"nominal","scale":{"domain":["International all","International prepubertal","US all","US prepubertal"],"range":[22,52],"paddingInner":0,"paddingOuter":0}},
     "y":{"field":"mean","type":"quantitative","scale":{"domain":[-8,14],"nice":false,"zero":false},
          "axis":{"values":[14,12,10,8,6,4,2,0,-2,-4,-6,-8],"labelExpr":"replace(format(datum.value,'.1f'),'\u2212','-')","offset":-64.5,"labelFontSize":15,"labelFontWeight":"bold","labelPadding":2,"labelOverlap":false,"labelBound":false,"tickSize":6,"tickWidth":1.5,"tickColor":"#000","domainColor":"#000","domainWidth":1.5,"title":"Mean HVSDS (±SD)","titleFontSize":15,"titleFontWeight":"bold","titlePadding":8}},
     "order":{"field":"month","type":"quantitative"},
     "color":{"field":"Group","type":"nominal","scale":{"domain":["International all","International prepubertal","US all","US prepubertal"],"range":["#E8541E","#F8B133","#2472B9","#3AA935"]}}
    }},
   {"data":{"name":"hsdsB"},"transform":[{"filter":{"field":"Group","oneOf":["International prepubertal","US prepubertal"]}}],
    "mark":{"type":"line","strokeWidth":1.8},
    "encoding":{
     "x":{"field":"Time","type":"nominal","scale":{"domain":["Baseline","3","6","12","18","24","30","36"],"range":[64.5,655.7],"paddingInner":0,"paddingOuter":0}},
     "xOffset":{"field":"Group","type":"nominal","scale":{"domain":["International all","International prepubertal","US all","US prepubertal"],"range":[22,52],"paddingInner":0,"paddingOuter":0}},
     "y":{"field":"mean","type":"quantitative","scale":{"domain":[-8,14],"nice":false,"zero":false},
          "axis":{"values":[14,12,10,8,6,4,2,0,-2,-4,-6,-8],"labelExpr":"replace(format(datum.value,'.1f'),'\u2212','-')","offset":-64.5,"labelFontSize":15,"labelFontWeight":"bold","labelPadding":2,"labelOverlap":false,"labelBound":false,"tickSize":6,"tickWidth":1.5,"tickColor":"#000","domainColor":"#000","domainWidth":1.5,"title":"Mean HVSDS (±SD)","titleFontSize":15,"titleFontWeight":"bold","titlePadding":8}},
     "order":{"field":"month","type":"quantitative"},
     "color":{"field":"Group","type":"nominal","scale":{"domain":["International all","International prepubertal","US all","US prepubertal"],"range":["#E8541E","#F8B133","#2472B9","#3AA935"]},
      "legend":{"orient":"none","legendX":102.5,"legendY":320,"direction":"horizontal","columns":4,"columnPadding":31,"title":null,"padding":0,"labelFontSize":15,"labelColor":"#222","labelOffset":6,"labelLimit":300,"labelExpr":"split(datum.label,' ')","symbolSize":1275,"labelBaseline":"middle",
       "encode":{"symbols":{"update":{
        "shape":{"signal":"datum.value === 'International all' ? 'M-1,0L-0.74,0M-0.6,0L-0.34,0M0.34,0L0.6,0M0.74,0L1,0M-0.24,0A0.24,0.24,0,1,1,0.24,0A0.24,0.24,0,1,1,-0.24,0Z' : datum.value === 'International prepubertal' ? 'M-1,0L1,0M-0.24,0A0.24,0.24,0,1,1,0.24,0A0.24,0.24,0,1,1,-0.24,0Z' : datum.value === 'US all' ? 'M-1,0L-0.74,0M-0.6,0L-0.34,0M0.34,0L0.6,0M0.74,0L1,0M-0.22,-0.22L0.22,-0.22L0.22,0.22L-0.22,0.22Z' : 'M-1,0L1,0M-0.22,-0.22L0.22,-0.22L0.22,0.22L-0.22,0.22Z'"},
        "fill":{"signal":"datum.value === 'International all' ? '#E8541E' : datum.value === 'International prepubertal' ? '#F8B133' : datum.value === 'US all' ? '#2472B9' : '#3AA935'"},
        "stroke":{"signal":"datum.value === 'International all' ? '#E8541E' : datum.value === 'International prepubertal' ? '#F8B133' : datum.value === 'US all' ? '#2472B9' : '#3AA935'"},
        "strokeWidth":{"value":1.6},"strokeDash":{"value":[]},"size":{"value":1275},"opacity":{"value":1},"fillOpacity":{"value":1},"strokeOpacity":{"value":1}
       }}}}
     }
    }},
   {"data":{"name":"hsdsB"},"transform":[{"filter":{"field":"Group","oneOf":["International all","International prepubertal"]}}],
    "mark":{"type":"point","shape":"circle","filled":true,"opacity":1,"size":70},
    "encoding":{
     "x":{"field":"Time","type":"nominal","scale":{"domain":["Baseline","3","6","12","18","24","30","36"],"range":[64.5,655.7],"paddingInner":0,"paddingOuter":0}},
     "xOffset":{"field":"Group","type":"nominal","scale":{"domain":["International all","International prepubertal","US all","US prepubertal"],"range":[22,52],"paddingInner":0,"paddingOuter":0}},
     "y":{"field":"mean","type":"quantitative","scale":{"domain":[-8,14],"nice":false,"zero":false},
          "axis":{"values":[14,12,10,8,6,4,2,0,-2,-4,-6,-8],"labelExpr":"replace(format(datum.value,'.1f'),'\u2212','-')","offset":-64.5,"labelFontSize":15,"labelFontWeight":"bold","labelPadding":2,"labelOverlap":false,"labelBound":false,"tickSize":6,"tickWidth":1.5,"tickColor":"#000","domainColor":"#000","domainWidth":1.5,"title":"Mean HVSDS (±SD)","titleFontSize":15,"titleFontWeight":"bold","titlePadding":8}},
     "color":{"field":"Group","type":"nominal","scale":{"domain":["International all","International prepubertal","US all","US prepubertal"],"range":["#E8541E","#F8B133","#2472B9","#3AA935"]}}
    }},
   {"data":{"name":"hsdsB"},"transform":[{"filter":{"field":"Group","oneOf":["US all","US prepubertal"]}}],
    "mark":{"type":"point","shape":"square","filled":true,"opacity":1,"size":70},
    "encoding":{
     "x":{"field":"Time","type":"nominal","scale":{"domain":["Baseline","3","6","12","18","24","30","36"],"range":[64.5,655.7],"paddingInner":0,"paddingOuter":0}},
     "xOffset":{"field":"Group","type":"nominal","scale":{"domain":["International all","International prepubertal","US all","US prepubertal"],"range":[22,52],"paddingInner":0,"paddingOuter":0}},
     "y":{"field":"mean","type":"quantitative","scale":{"domain":[-8,14],"nice":false,"zero":false},
          "axis":{"values":[14,12,10,8,6,4,2,0,-2,-4,-6,-8],"labelExpr":"replace(format(datum.value,'.1f'),'\u2212','-')","offset":-64.5,"labelFontSize":15,"labelFontWeight":"bold","labelPadding":2,"labelOverlap":false,"labelBound":false,"tickSize":6,"tickWidth":1.5,"tickColor":"#000","domainColor":"#000","domainWidth":1.5,"title":"Mean HVSDS (±SD)","titleFontSize":15,"titleFontWeight":"bold","titlePadding":8}},
     "color":{"field":"Group","type":"nominal","scale":{"domain":["International all","International prepubertal","US all","US prepubertal"],"range":["#E8541E","#F8B133","#2472B9","#3AA935"]}}
    }}
  ]
 },
 {
  "width":678,"height":335,
  "layer":[
   {"data":{"name":"rules"},"mark":{"type":"rule","color":"#222","strokeWidth":1.5},
    "encoding":{"y":{"field":"slot","type":"nominal","bandPosition":0,
     "scale":{"domain":["s0","Patients","s1","Time","s2","International all","s3","s4","International prepubertal","s5","s6","US all","s7","US pre pubertal","s8","end"],"range":[91.7,349.5],"paddingInner":0,"paddingOuter":0},
     "axis":{"orient":"left","values":["Time","International all","International prepubertal","US all","US pre pubertal"],"bandPosition":0,
      "labelExpr":"datum.value === 'International all' ? ['International','all'] : datum.value === 'International prepubertal' ? ['International','prepubertal'] : datum.value === 'US pre pubertal' ? ['US pre','pubertal'] : datum.value",
      "labelAlign":"left","labelBaseline":"middle","labelPadding":-10.2,"labelOffset":-8.06,"tickSize":0,"ticks":false,"domain":false,"title":null,"labelFontSize":15,"labelLineHeight":18,"labelColor":"#1a1a1a","labelOverlap":false,"labelBound":false,"labelLimit":0,
      "labelFontWeight":{"condition":{"test":"datum.value === 'Time'","value":"bold"},"value":"normal"}}}}},
   {"data":{"name":"one"},"mark":{"type":"rule","color":"#222","strokeWidth":1.5},
    "encoding":{
     "x":{"datum":"BL","type":"nominal","bandPosition":0,"scale":{"domain":["BL","3","6","12","18","24","30","36"],"range":[106.3,679.9],"paddingInner":0,"paddingOuter":0},"axis":null},
     "y":{"datum":"s1","type":"nominal","bandPosition":0,"scale":{"domain":["s0","Patients","s1","Time","s2","International all","s3","s4","International prepubertal","s5","s6","US all","s7","US pre pubertal","s8","end"],"range":[91.7,349.5],"paddingInner":0,"paddingOuter":0}},
     "y2":{"datum":"end","bandPosition":0}}},
   {"data":{"name":"cols"},"mark":{"type":"text","fontWeight":"bold","fontSize":15,"baseline":"middle"},
    "encoding":{
     "x":{"field":"col","type":"nominal","scale":{"domain":["BL","3","6","12","18","24","30","36"],"range":[106.3,679.9],"paddingInner":0,"paddingOuter":0},"axis":null},
     "y":{"datum":"Time","type":"nominal","bandPosition":0,"scale":{"domain":["s0","Patients","s1","Time","s2","International all","s3","s4","International prepubertal","s5","s6","US all","s7","US pre pubertal","s8","end"],"range":[91.7,349.5],"paddingInner":0,"paddingOuter":0}},
     "text":{"field":"col"}}},
   {"data":{"name":"one"},"mark":{"type":"text","fontWeight":"bold","fontSize":15,"baseline":"middle","align":"right","dx":24.6},
    "encoding":{
     "x":{"datum":"18","type":"nominal","bandPosition":0,"scale":{"domain":["BL","3","6","12","18","24","30","36"],"range":[106.3,679.9],"paddingInner":0,"paddingOuter":0},"axis":null},
     "y":{"datum":"Patients","type":"nominal","bandPosition":0,"scale":{"domain":["s0","Patients","s1","Time","s2","International all","s3","s4","International prepubertal","s5","s6","US all","s7","US pre pubertal","s8","end"],"range":[91.7,349.5],"paddingInner":0,"paddingOuter":0}},
     "text":{"value":"Patients,"}}},
   {"data":{"name":"one"},"mark":{"type":"text","fontWeight":"bold","fontStyle":"italic","fontSize":15,"baseline":"middle","align":"left","dx":28.8},
    "encoding":{
     "x":{"datum":"18","type":"nominal","bandPosition":0,"scale":{"domain":["BL","3","6","12","18","24","30","36"],"range":[106.3,679.9],"paddingInner":0,"paddingOuter":0},"axis":null},
     "y":{"datum":"Patients","type":"nominal","bandPosition":0,"scale":{"domain":["s0","Patients","s1","Time","s2","International all","s3","s4","International prepubertal","s5","s6","US all","s7","US pre pubertal","s8","end"],"range":[91.7,349.5],"paddingInner":0,"paddingOuter":0}},
     "text":{"value":"n"}}},
   {"data":{"name":"tableB"},"mark":{"type":"text","fontSize":15,"baseline":"middle"},
    "encoding":{
     "x":{"field":"col","type":"nominal","scale":{"domain":["BL","3","6","12","18","24","30","36"],"range":[106.3,679.9],"paddingInner":0,"paddingOuter":0},"axis":null},
     "y":{"field":"row","type":"nominal","bandPosition":0,"scale":{"domain":["s0","Patients","s1","Time","s2","International all","s3","s4","International prepubertal","s5","s6","US all","s7","US pre pubertal","s8","end"],"range":[91.7,349.5],"paddingInner":0,"paddingOuter":0}},
     "text":{"field":"n","type":"quantitative","format":"d"}}}
  ]
 }
]
}
